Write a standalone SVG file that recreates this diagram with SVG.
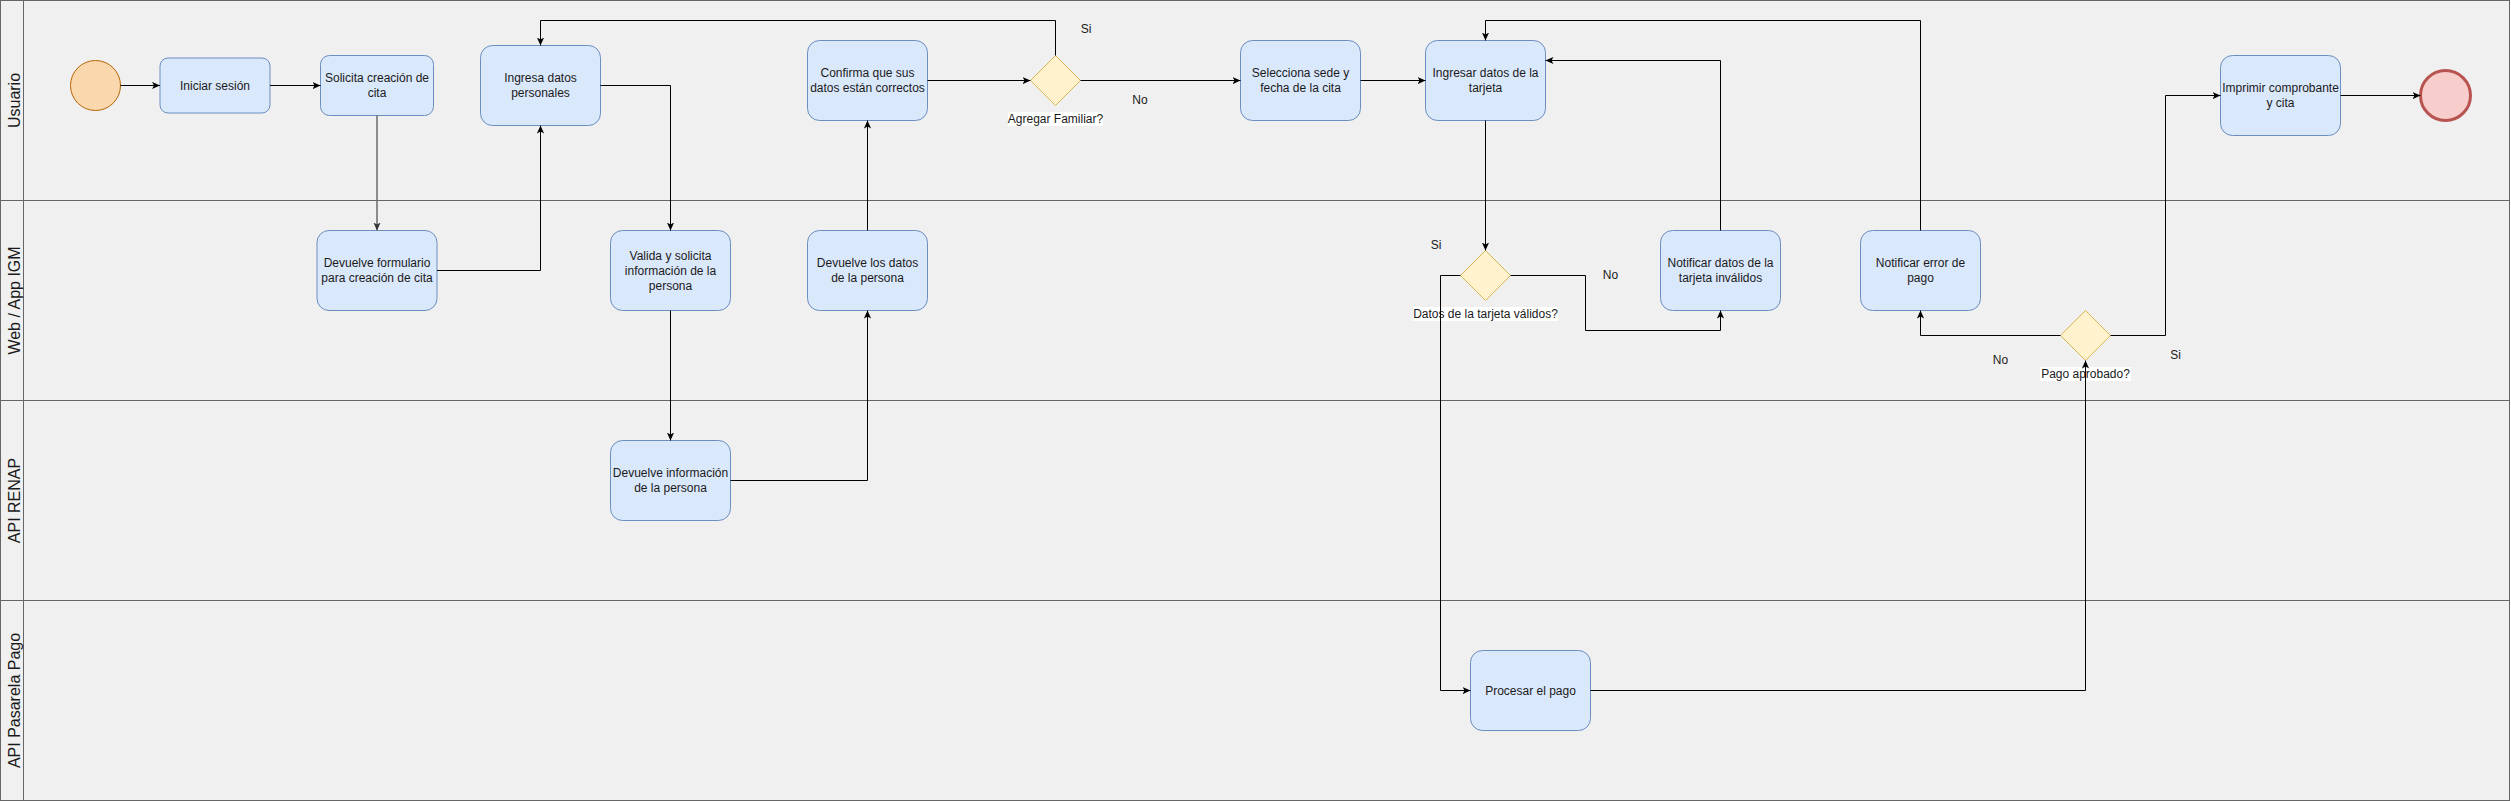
<svg xmlns="http://www.w3.org/2000/svg" width="2511" height="801" viewBox="0 0 2511 801">
<defs>
<style>
.lane{fill:#f0f0f0;stroke:#666666;stroke-width:1}
.hdr{font-family:"Liberation Sans",Arial,sans-serif;font-size:16px;fill:#1a1a1a;text-anchor:middle}
.task{fill:#dae8fc;stroke:#6c8ebf;stroke-width:1}
.gw{fill:#fff2cc;stroke:#d6b656;stroke-width:1}
.t{font-family:"Liberation Sans",Arial,sans-serif;font-size:12px;fill:#1a1a1a;text-anchor:middle}
.bg{fill:#ffffff}
.e{fill:none;stroke:#000000;stroke-width:1;marker-end:url(#arr)}
.eg{fill:none;stroke:#6b6b6b;stroke-width:1.5;marker-end:url(#arrg)}
</style>
<marker id="arr" viewBox="0 0 10 10" refX="10" refY="5" markerWidth="8" markerHeight="8" markerUnits="userSpaceOnUse" orient="auto">
<path d="M0,0.5 L10,5 L0,9.5 L2.5,5 z" fill="#000000"/>
</marker>
<marker id="arrg" viewBox="0 0 10 10" refX="10" refY="5" markerWidth="8" markerHeight="8" markerUnits="userSpaceOnUse" orient="auto">
<path d="M0,0.5 L10,5 L0,9.5 L2.5,5 z" fill="#333333"/>
</marker>
</defs>

<g id="lanes">
<g id="lane-usuario">
<rect class="lane" x="0.5" y="0.5" width="2509" height="200"/>
<line x1="23.5" y1="0.5" x2="23.5" y2="200.5" stroke="#666666"/>
<text class="hdr" transform="translate(20,100.5) rotate(-90)">Usuario</text>
</g>
<g id="lane-web">
<rect class="lane" x="0.5" y="200.5" width="2509" height="200"/>
<line x1="23.5" y1="200.5" x2="23.5" y2="400.5" stroke="#666666"/>
<text class="hdr" transform="translate(20,300.5) rotate(-90)">Web / App IGM</text>
</g>
<g id="lane-renap">
<rect class="lane" x="0.5" y="400.5" width="2509" height="200"/>
<line x1="23.5" y1="400.5" x2="23.5" y2="600.5" stroke="#666666"/>
<text class="hdr" transform="translate(20,500.5) rotate(-90)">API RENAP</text>
</g>
<g id="lane-pasarela">
<rect class="lane" x="0.5" y="600.5" width="2509" height="200"/>
<line x1="23.5" y1="600.5" x2="23.5" y2="800.5" stroke="#666666"/>
<text class="hdr" transform="translate(20,700.5) rotate(-90)">API Pasarela Pago</text>
</g>
</g>

<g id="nodes">
<g id="start"><circle cx="95.5" cy="85.5" r="25" fill="#fad7ac" stroke="#b46504" stroke-width="1"/></g>
<g id="iniciar"><rect class="task" x="160" y="58" width="110" height="55" rx="8"/><text class="t" x="215" y="89.5">Iniciar sesión</text></g>
<g id="solicita"><rect class="task" x="320.5" y="55.5" width="113" height="60" rx="9"/><text class="t" x="377" y="82">Solicita creación de</text><text class="t" x="377" y="97">cita</text></g>
<g id="ingresa"><rect class="task" x="480.5" y="45.5" width="120" height="80" rx="12"/><text class="t" x="540.5" y="82">Ingresa datos</text><text class="t" x="540.5" y="97">personales</text></g>
<g id="devuelve-form"><rect class="task" x="317" y="230.5" width="120" height="80" rx="12"/><text class="t" x="377" y="267">Devuelve formulario</text><text class="t" x="377" y="282">para creación de cita</text></g>
<g id="valida"><rect class="task" x="610.5" y="230.5" width="120" height="80" rx="12"/><text class="t" x="670.5" y="259.5">Valida y solicita</text><text class="t" x="670.5" y="274.5">información de la</text><text class="t" x="670.5" y="289.5">persona</text></g>
<g id="devuelve-info"><rect class="task" x="610.5" y="440.5" width="120" height="80" rx="12"/><text class="t" x="670.5" y="477">Devuelve información</text><text class="t" x="670.5" y="492">de la persona</text></g>
<g id="devuelve-datos"><rect class="task" x="807.5" y="230.5" width="120" height="80" rx="12"/><text class="t" x="867.5" y="267">Devuelve los datos</text><text class="t" x="867.5" y="282">de la persona</text></g>
<g id="confirma"><rect class="task" x="807.5" y="40.5" width="120" height="80" rx="12"/><text class="t" x="867.5" y="77">Confirma que sus</text><text class="t" x="867.5" y="92">datos están correctos</text></g>
<g id="gw-familiar"><path class="gw" d="M1055.5,55.5 L1080.5,80.5 L1055.5,105.5 L1030.5,80.5 Z"/><rect class="bg" x="1008" y="112" width="95" height="14"/><text class="t" x="1055.5" y="123">Agregar Familiar?</text></g>
<g id="selecciona"><rect class="task" x="1240.5" y="40.5" width="120" height="80" rx="12"/><text class="t" x="1300.5" y="77">Selecciona sede y</text><text class="t" x="1300.5" y="92">fecha de la cita</text></g>
<g id="ingresar-tarjeta"><rect class="task" x="1425.5" y="40.5" width="120" height="80" rx="12"/><text class="t" x="1485.5" y="77">Ingresar datos de la</text><text class="t" x="1485.5" y="92">tarjeta</text></g>
<g id="gw-tarjeta"><path class="gw" d="M1485.5,250.5 L1510.5,275.5 L1485.5,300.5 L1460.5,275.5 Z"/><rect class="bg" x="1413" y="307" width="145" height="14"/><text class="t" x="1485.5" y="318">Datos de la tarjeta válidos?</text></g>
<g id="notificar-invalidos"><rect class="task" x="1660.5" y="230.5" width="120" height="80" rx="12"/><text class="t" x="1720.5" y="267">Notificar datos de la</text><text class="t" x="1720.5" y="282">tarjeta inválidos</text></g>
<g id="notificar-error"><rect class="task" x="1860.5" y="230.5" width="120" height="80" rx="12"/><text class="t" x="1920.5" y="267">Notificar error de</text><text class="t" x="1920.5" y="282">pago</text></g>
<g id="gw-pago"><path class="gw" d="M2085.5,310.5 L2110.5,335.5 L2085.5,360.5 L2060.5,335.5 Z"/><rect class="bg" x="2040" y="367" width="91" height="14"/><text class="t" x="2085.5" y="378">Pago aprobado?</text></g>
<g id="procesar"><rect class="task" x="1470.5" y="650.5" width="120" height="80" rx="12"/><text class="t" x="1530.5" y="694.5">Procesar el pago</text></g>
<g id="imprimir"><rect class="task" x="2220.5" y="55.5" width="120" height="80" rx="12"/><text class="t" x="2280.5" y="92">Imprimir comprobante</text><text class="t" x="2280.5" y="107">y cita</text></g>
<g id="end"><circle cx="2445.5" cy="95.5" r="25" fill="#f8cecc" stroke="#b85450" stroke-width="3"/></g>
</g>

<g id="connectors">
<path class="e" d="M120.5,85.5 H160"/>
<path class="e" d="M270,85.5 H320.5"/>
<path class="eg" d="M377,115.5 V230.5"/>
<path class="e" d="M437,270.5 H540.5 V125.5"/>
<path class="e" d="M600.5,85.5 H670.5 V230.5"/>
<path class="e" d="M670.5,310.5 V440.5"/>
<path class="e" d="M730.5,480.5 H867.5 V310.5"/>
<path class="e" d="M867.5,230.5 V120.5"/>
<path class="e" d="M927.5,80.5 H1030.5"/>
<path class="e" d="M1055.5,55.5 V20.5 H540.5 V45.5"/>
<path class="e" d="M1080.5,80.5 H1240.5"/>
<path class="e" d="M1360.5,80.5 H1425.5"/>
<path class="e" d="M1485.5,120.5 V250.5"/>
<path class="e" d="M1460.5,275.5 H1440.5 V690.5 H1470.5"/>
<path class="e" d="M1510.5,275.5 H1585.5 V330.5 H1720.5 V310.5"/>
<path class="e" d="M1720.5,230.5 V60.5 H1545.5"/>
<path class="e" d="M1590.5,690.5 H2085.5 V360.5"/>
<path class="e" d="M2060.5,335.5 H1920.5 V310.5"/>
<path class="e" d="M1920.5,230.5 V20.5 H1485.5 V40.5"/>
<path class="e" d="M2110.5,335.5 H2165.5 V95.5 H2220.5"/>
<path class="e" d="M2340.5,95.5 H2420.5"/>
</g>

<g id="edge-labels">
<text class="t" x="1086" y="33">Si</text>
<text class="t" x="1140" y="103.5">No</text>
<text class="t" x="1436" y="249">Si</text>
<text class="t" x="1610.5" y="279">No</text>
<text class="t" x="2000.5" y="363.5">No</text>
<text class="t" x="2175.5" y="358.5">Si</text>
</g>
</svg>
